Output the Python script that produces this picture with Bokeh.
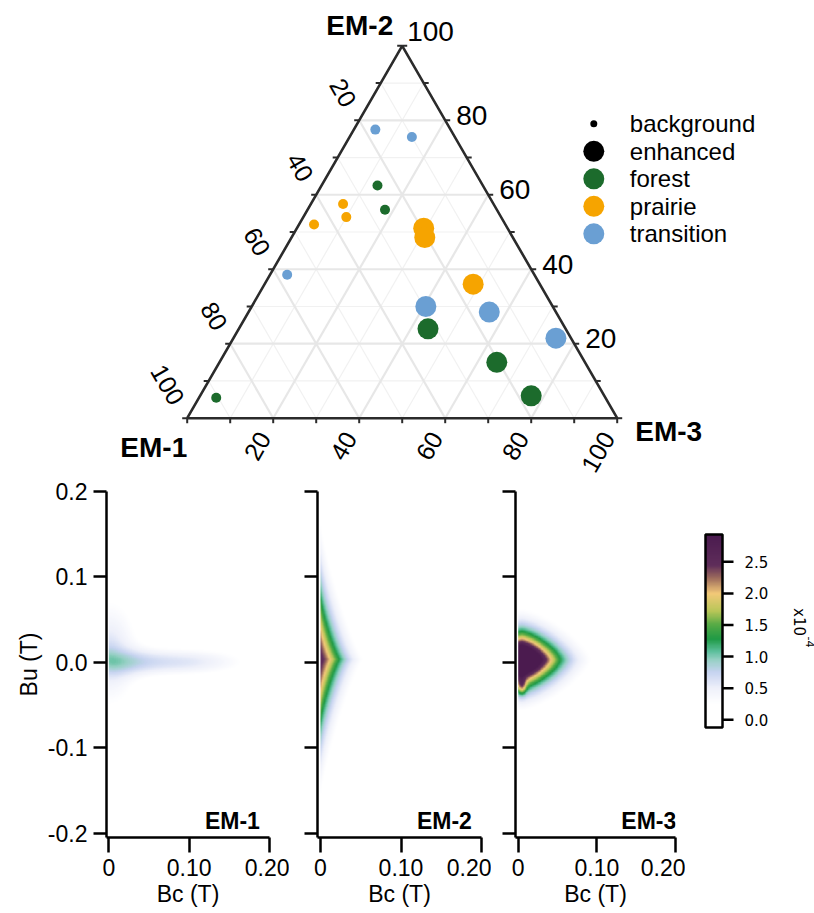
import numpy as np
from bokeh.plotting import figure
from bokeh.models import (Range1d, ColumnDataSource, LinearColorMapper, FixedTicker,
                          PrintfTickFormatter)
from bokeh.layouts import column, row
from bokeh.embed import file_html
from bokeh.resources import INLINE
from bokeh.core.properties import value

# ---------------- ternary data (composition in %) ----------------
em1 = [17.5, 10.0, 24.5, 26.0, 35.0, 36.0, 44.5, 19.5, 20.5, 57.5, 15.5, 29.5, 15.5, 32.0, 3.5, 20.5, 17.0, 90.5]
em2 = [77.5, 75.5, 62.5, 56.0, 57.5, 54.0, 52.0, 51.0, 48.5, 38.5, 36.0, 30.0, 28.5, 24.0, 21.5, 15.0, 6.0, 5.5]
em3 = [5.0, 14.5, 13.0, 18.0, 7.5, 10.0, 3.5, 29.5, 31.0, 4.0, 48.5, 40.5, 56.0, 44.0, 75.0, 64.5, 77.0, 4.0]
site = ["transition", "transition", "forest", "forest", "prairie", "prairie", "prairie", "prairie",
        "prairie", "transition", "prairie", "transition", "transition", "forest", "transition",
        "forest", "forest", "forest"]
level = ["background", "background", "background", "background", "background", "background",
         "background", "enhanced", "enhanced", "background", "enhanced", "enhanced", "enhanced",
         "enhanced", "enhanced", "enhanced", "enhanced", "background"]

site_colors = {"forest": "#1c6b2c", "prairie": "#f6a400", "transition": "#6a9fd3"}
level_sizes = {"background": 10, "enhanced": 21}

legend_labels = ["background", "enhanced", "forest", "prairie", "transition"]
legend_colors = ["#000000", "#000000", "#1c6b2c", "#f6a400", "#6a9fd3"]
legend_sizes = [7, 21, 21, 21, 21]

tern_ticks = [20, 40, 60, 80, 100]
vertex_names = ["EM-1", "EM-2", "EM-3"]

# ---------------- FORC distributions (read-off component parameters) ----------------
# (amplitude x1e-4, Bc centre, Bu centre, Bc width, Bu width, norm exponent, decay exponent)
em1_components = [
    (0.26, 0.018, 0.000, 0.045, 0.014, 2.0, 2.0),
    (0.58, 0.090, 0.000, 0.080, 0.016, 2.0, 2.0),
    (0.68, 0.000, 0.010, 0.035, 0.060, 2.0, 1.5),
]
em2_components = [
    (2.55, 0.000, 0.003, 0.030, 0.090, 0.85, 1.5),
]
em3_components = [
    (5.50, 0.004, 0.0025, 0.037, 0.025, 1.4, 1.3),
    (0.90, 0.004, -0.028, 0.006, 0.010, 2.0, 2.0),
]
bc_ticks = [0.0, 0.1, 0.2]
bc_tick_labels = ["0", "0.10", "0.20"]
bu_ticks = [-0.2, -0.1, 0.0, 0.1, 0.2]
cbar_ticks = [0.0, 0.5, 1.0, 1.5, 2.0, 2.5]
cbar_low, cbar_high = -0.122, 2.932

stops_v = [-0.122, 0.25, 0.5, 0.75, 0.95, 1.08, 1.28, 1.5, 1.72, 2.0, 2.25, 2.45, 2.932]
stops_c = ["#ffffff", "#ffffff", "#eef0fa", "#c6d3f0", "#96d0c4", "#5cbf9c", "#1f9a45",
           "#55aa45", "#b8c658", "#f3c978", "#9c6b5c", "#5f2d5a", "#4b1b4f"]

FONT = "Liberation Sans"

# ---------------- palette ----------------
def hex2rgb(h):
    h = h.lstrip("#")
    return [int(h[i:i + 2], 16) for i in (0, 2, 4)]

rgb = np.array([hex2rgb(c) for c in stops_c], float)
vals = np.linspace(cbar_low, cbar_high, 256)
palette = []
for v in vals:
    r, g, b = (int(round(np.interp(v, stops_v, rgb[:, k]))) for k in range(3))
    palette.append("#%02x%02x%02x" % (r, g, b))
mapper = LinearColorMapper(palette=palette, low=cbar_low, high=cbar_high,
                           high_color=stops_c[-1], low_color="#ffffff")

# ---------------- ternary figure ----------------
PX = 4.3  # screen pixels per composition %
S3 = np.sqrt(3) / 2
TOP_H = 476


def tern(a, b, c):
    a = np.asarray(a, float); b = np.asarray(b, float); c = np.asarray(c, float)
    t = a + b + c
    return 100 * (c + b / 2) / t, 100 * b * S3 / t


p0 = figure(width=814, height=TOP_H, x_range=Range1d(-186.7 / PX, (814 - 186.7) / PX),
            y_range=Range1d((417.7 - TOP_H) / PX, 417.7 / PX), output_backend="svg",
            toolbar_location=None, min_border=0, x_axis_location=None, y_axis_location=None)
p0.grid.visible = False
p0.outline_line_color = None

# grid lines
for major in (False, True):
    xs, ys = [], []
    for k in range(10, 100, 10):
        if (k % 20 == 0) != major:
            continue
        for (q1, q2) in [((k, 100 - k, 0), (k, 0, 100 - k)),
                         ((100 - k, k, 0), (0, k, 100 - k)),
                         ((100 - k, 0, k), (0, 100 - k, k))]:
            x1, y1 = tern(*q1); x2, y2 = tern(*q2)
            xs.append([float(x1), float(x2)]); ys.append([float(y1), float(y2)])
    p0.multi_line(xs, ys, line_color="#e7e7e7" if major else "#f1f1f1",
                  line_width=2.2 if major else 1.2)

# triangle border
bx, by = tern([100, 0, 0, 100], [0, 100, 0, 0], [0, 0, 100, 0])
p0.line(bx, by, line_color="#2b2b2b", line_width=2.6)

# ticks
tl = 5 / PX
ks = np.arange(0, 101, 10)
x_b, y_b = tern(100 - ks, 0 * ks, ks)
x_r, y_r = tern(0 * ks, ks, 100 - ks)
x_l, y_l = tern(ks, 100 - ks, 0 * ks)
p0.segment(x_b, y_b, x_b, y_b - tl, line_color="#2b2b2b", line_width=2)
p0.segment(x_r, y_r, x_r + tl, y_r, line_color="#2b2b2b", line_width=2)
p0.segment(x_l, y_l, x_l - tl, y_l, line_color="#2b2b2b", line_width=2)

tk = np.array(tern_ticks, float)
labs = [str(t) for t in tern_ticks]
d = 18 / PX
# left axis (EM-1)
lx, ly = tern(tk, 100 - tk, 0 * tk)
p0.text(lx - 0.5 * d, ly + S3 * d, text=labs, angle=-np.pi / 3, text_align="right",
        text_baseline="middle", text_font=value(FONT), text_font_size="25px", text_color="black")
# bottom axis (EM-3)
bx2, by2 = tern(100 - tk, 0 * tk, tk)
p0.text(bx2 - 0.5 * d, by2 - S3 * d, text=labs, angle=np.pi / 3, text_align="right",
        text_baseline="middle", text_font=value(FONT), text_font_size="25px", text_color="black")
# right axis (EM-2)
rx, ry = tern(0 * tk[:-1], tk[:-1], 100 - tk[:-1])
p0.text(rx, ry, text=labs[:-1], x_offset=11, y_offset=-5, text_align="left", text_baseline="middle",
        text_font=value(FONT), text_font_size="28px", text_color="black")
rx1, ry1 = tern([0], [tk[-1]], [0])
p0.text(rx1, ry1, text=[labs[-1]], x_offset=5, y_offset=-14, text_align="left",
        text_baseline="middle", text_font=value(FONT), text_font_size="28px", text_color="black")

# vertex labels
vx, vy = tern([100, 0, 0], [0, 100, 0], [0, 0, 100])
p0.text([vx[0]], [vy[0]], text=[vertex_names[0]], x_offset=0, y_offset=29, text_align="right",
        text_baseline="middle", text_font=value(FONT), text_font_style="bold", text_font_size="28px")
p0.text([vx[1]], [vy[1]], text=[vertex_names[1]], x_offset=-9, y_offset=-20, text_align="right",
        text_baseline="middle", text_font=value(FONT), text_font_style="bold", text_font_size="28px")
p0.text([vx[2]], [vy[2]], text=[vertex_names[2]], x_offset=18, y_offset=13, text_align="left",
        text_baseline="middle", text_font=value(FONT), text_font_style="bold", text_font_size="28px")

# points
px_, py_ = tern(em1, em2, em3)
src = ColumnDataSource(dict(x=px_, y=py_, color=[site_colors[s] for s in site],
                            size=[level_sizes[l] for l in level]))
p0.scatter("x", "y", size="size", fill_color="color", line_color=None, source=src)

# legend (manual, to allow different marker sizes)
leg_x = (593.3 - 186.7) / PX
leg_y0 = (417.7 - 123.3) / PX
leg_step = 27.5 / PX
ly_ = [leg_y0 - i * leg_step for i in range(len(legend_labels))]
p0.scatter([leg_x] * len(ly_), ly_, size=legend_sizes, fill_color=legend_colors, line_color=None)
p0.text([leg_x] * len(ly_), ly_, text=legend_labels, x_offset=36, text_align="left",
        text_baseline="middle", text_font=value(FONT), text_font_size="24px", text_color="black")

# ---------------- FORC panels ----------------
bc = np.linspace(0, 0.2, 241)
bu = np.linspace(-0.2, 0.2, 481)
FRAME_TOP = 491 - TOP_H
FRAME_H = 346
FRAME_BOT = 76
PPU_BU = 854.0


def density(components):
    BC, BU = np.meshgrid(bc, bu)
    z = np.zeros_like(BC)
    for A, c0, u0, sc, su, m, pw in components:
        r = (np.abs((BC - c0) / sc) ** m + np.abs((BU - u0) / su) ** m) ** (1 / m)
        z += A * np.exp(-r ** pw)
    return z


def style_axis(ax, tick_out, standoff):
    ax.axis_line_width = 2.5
    ax.axis_line_color = "black"
    ax.major_tick_line_width = 2.5
    ax.major_tick_line_color = "black"
    ax.major_tick_out = tick_out
    ax.major_tick_in = 0
    ax.minor_tick_out = 0
    ax.minor_tick_in = 0
    ax.major_label_text_font = FONT
    ax.major_label_text_font_size = "23px"
    ax.major_label_text_color = "black"
    ax.major_label_standoff = standoff
    ax.axis_label_text_font = FONT
    ax.axis_label_text_font_size = "23px"
    ax.axis_label_text_font_style = "normal"
    ax.axis_label_text_color = "black"


def panel(components, name, frame_w, left, right, zero_off, show_y, label_bc):
    start = -0.2 * zero_off / (frame_w - zero_off)
    p = figure(frame_width=frame_w, frame_height=FRAME_H, x_range=Range1d(start, 0.2),
               y_range=Range1d(0.2 - FRAME_H / PPU_BU, 0.2), output_backend="svg",
               toolbar_location=None, min_border_left=left, min_border_right=right,
               min_border_top=FRAME_TOP, min_border_bottom=FRAME_BOT)
    p.grid.visible = False
    p.outline_line_color = None
    p.image(image=[density(components)], x=0, y=-0.2, dw=0.2, dh=0.4, color_mapper=mapper)
    style_axis(p.xaxis[0], 15, 6)
    style_axis(p.yaxis[0], 13, 6)
    p.xaxis.ticker = FixedTicker(ticks=bc_ticks)
    p.xaxis.major_label_overrides = {t: l for t, l in zip(bc_ticks, bc_tick_labels)}
    p.xaxis.axis_label = "Bc (T)"
    p.xaxis.axis_label_standoff = 2
    p.yaxis.ticker = FixedTicker(ticks=bu_ticks)
    if show_y:
        p.yaxis.formatter = PrintfTickFormatter(format="%.1f")
        p.yaxis.axis_label = "Bu (T)"
        p.yaxis.axis_label_standoff = 3
    else:
        p.yaxis.major_label_overrides = {t: "" for t in bu_ticks}
    p.text([label_bc], [-0.186], text=[name], text_align="right", text_baseline="alphabetic",
           text_font=value(FONT), text_font_style="bold", text_font_size="23px",
           text_color="black")
    return p


p1 = panel(em1_components, "EM-1", 163, 106, 20, 2.3, True, 0.188)
p2 = panel(em2_components, "EM-2", 164, 28, 10, 3.0, False, 0.188)
p3 = panel(em3_components, "EM-3", 160, 24, 10, 2.7, False, 0.201)

# ---------------- colour bar (own figure, x in screen pixels, y in density units) ----------------
CB_W = 129
CB_PPU = 63.2
cb_zero_px = 719.3 - 491  # distance of 0.0 below frame top
y_top = cb_zero_px / CB_PPU
y_bot = y_top - FRAME_H / CB_PPU
p4 = figure(frame_width=CB_W, frame_height=FRAME_H, x_range=Range1d(0, CB_W),
            y_range=Range1d(y_bot, y_top), output_backend="svg", toolbar_location=None,
            x_axis_location=None, y_axis_location=None, min_border_left=0,
            min_border_right=0, min_border_top=FRAME_TOP, min_border_bottom=FRAME_BOT)
p4.grid.visible = False
p4.outline_line_color = None
bar_x0, bar_w = 20, 17
grad = np.linspace(cbar_low, cbar_high, 300).reshape(-1, 1)
p4.image(image=[grad], x=bar_x0, y=cbar_low, dw=bar_w, dh=cbar_high - cbar_low,
         color_mapper=mapper)
p4.quad(left=[bar_x0], right=[bar_x0 + bar_w], bottom=[cbar_low], top=[cbar_high],
        fill_color=None, line_color="black", line_width=2.5)
p4.segment([bar_x0 + bar_w] * len(cbar_ticks), cbar_ticks,
           [bar_x0 + bar_w + 11] * len(cbar_ticks), cbar_ticks, line_color="black", line_width=2.5)
p4.text([bar_x0 + bar_w + 22] * len(cbar_ticks), cbar_ticks,
        text=["%.1f" % t for t in cbar_ticks], text_align="left", text_baseline="middle",
        text_font=value("DejaVu Sans"), text_font_size="15px", text_color="black")
p4.text([113.5], [(719.3 - 621.5) / CB_PPU], text=["x10"], angle=-np.pi / 2, text_align="center",
        text_baseline="middle", text_font=value("DejaVu Sans"), text_font_size="15px",
        text_color="black")
p4.text([124.0], [(719.3 - 641.5) / CB_PPU], text=["-4"], angle=-np.pi / 2, text_align="center",
        text_baseline="middle", text_font=value("DejaVu Sans"), text_font_size="11px",
        text_color="black")

layout = column(p0, row(p1, p2, p3, p4))
open("out.html", "w").write(file_html(layout, INLINE))
